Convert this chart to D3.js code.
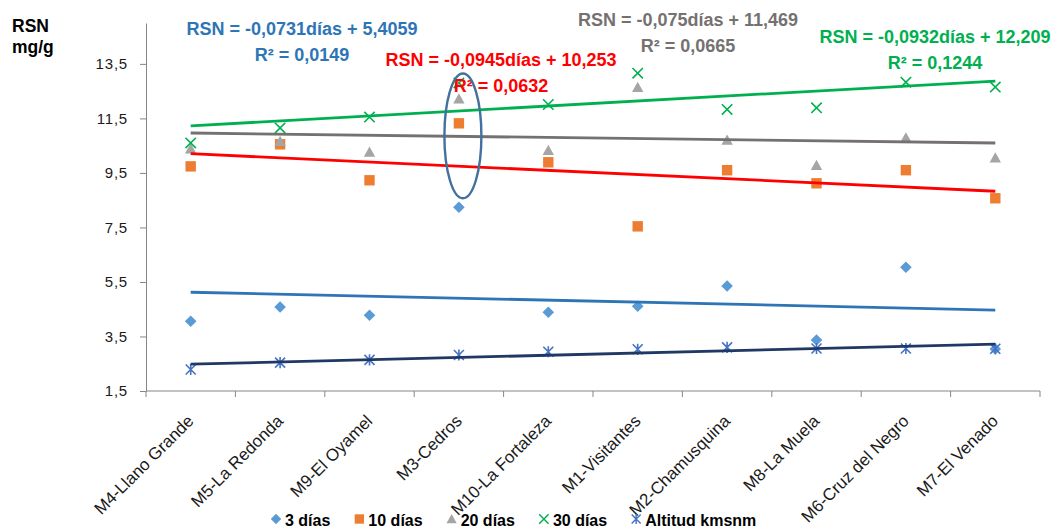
<!DOCTYPE html>
<html>
<head>
<meta charset="utf-8">
<script src="https://cdn.jsdelivr.net/npm/d3@7"></script>
<style>
  body { margin: 0; background: #fff; }
  svg { display: block; }
  text { font-family: "Liberation Sans", Arial, sans-serif; }
</style>
</head>
<body>
<svg id="chart" width="1052" height="529"></svg>
<script>
// Sampling sites along the altitude gradient
const sites = ["M4-Llano Grande", "M5-La Redonda", "M9-El Oyamel", "M3-Cedros", "M10-La Fortaleza",
               "M1-Visitantes", "M2-Chamusquina", "M8-La Muela", "M6-Cruz del Negro", "M7-El Venado"];

// RSN (mg/g) after each incubation time, and site altitude (km a.s.l.)
const dias3   = [4.06, 4.58, 4.28, 8.24, 4.39, 4.61, 5.35, 3.37, 6.04, 3.04];
const dias10  = [9.74, 10.55, 9.23, 11.32, 9.89, 7.54, 9.60, 9.12, 9.60, 8.57];
const dias20  = [10.38, 10.66, 10.26, 12.22, 10.33, 12.64, 10.70, 9.78, 10.79, 10.05];
const dias30  = [10.60, 11.15, 11.55, 12.80, 12.01, 13.16, 11.83, 11.89, 12.83, 12.65];
const altitud = [2.29, 2.54, 2.64, 2.82, 2.94, 3.03, 3.10, 3.06, 3.06, 3.05];

const seriesNames = ["3 días", "10 días", "20 días", "30 días", "Altitud kmsnm"];
const yTicks = [1.5, 3.5, 5.5, 7.5, 9.5, 11.5, 13.5];

// Trend-line equations as reported for each incubation time
const eqLines = [
  "RSN = -0,0731días + 5,4059",
  "RSN = -0,0945días + 10,253",
  "RSN = -0,075días + 11,469",
  "RSN = -0,0932días + 12,209"
];
const r2Lines = ["R² = 0,0149", "R² = 0,0632", "R² = 0,0665", "R² = 0,1244"];

const series = [
  { name: seriesNames[0], values: dias3,   marker: "diamond",  color: "#5B9BD5", trend: "#2E75B6" },
  { name: seriesNames[1], values: dias10,  marker: "square",   color: "#ED7D31", trend: "#FF0000" },
  { name: seriesNames[2], values: dias20,  marker: "triangle", color: "#A5A5A5", trend: "#767171" },
  { name: seriesNames[3], values: dias30,  marker: "cross",    color: "#00B050", trend: "#00B050" },
  { name: seriesNames[4], values: altitud, marker: "star",     color: "#4472C4", trend: "#203864" }
];

const svg = d3.select("#chart");
const plotLeft = 146, plotRight = 1040, plotTop = 23, plotBottom = 391;

const x = d3.scaleBand().domain(sites).range([plotLeft, plotRight]);
const cx = s => x(s) + x.bandwidth() / 2;
const y = d3.scaleLinear().domain([1.5, 15]).range([plotBottom, plotTop]);

// ---- axes ----
const axisColor = "#868686";
const yAxis = svg.append("g")
  .attr("transform", `translate(${plotLeft},0)`)
  .call(d3.axisLeft(y).tickValues(yTicks).tickSize(6).tickSizeOuter(0).tickPadding(12)
    .tickFormat(d => d.toFixed(1).replace(".", ",")));
yAxis.select(".domain").attr("stroke", axisColor);
yAxis.selectAll(".tick line").attr("stroke", axisColor);
yAxis.selectAll(".tick text")
  .attr("font-family", "'Liberation Sans', Arial, sans-serif")
  .attr("font-size", 15).attr("letter-spacing", 0.8).attr("fill", "#1a1a1a");

const xg = svg.append("g");
xg.append("line").attr("x1", plotLeft).attr("x2", plotRight)
  .attr("y1", plotBottom).attr("y2", plotBottom).attr("stroke", axisColor);
const edges = sites.map(s => x(s)).concat([plotRight]);
xg.selectAll("line.tk").data(edges).join("line").attr("class", "tk")
  .attr("x1", d => d).attr("x2", d => d).attr("y1", plotBottom).attr("y2", plotBottom + 6)
  .attr("stroke", axisColor);
xg.selectAll("text").data(sites).join("text")
  .attr("transform", d => `translate(${cx(d) + 4},${plotBottom + 31}) rotate(-45)`)
  .attr("text-anchor", "end").attr("font-size", 17).attr("fill", "#1a1a1a")
  .text(d => d);

// ---- marker shapes ----
function markerPath(type) {
  switch (type) {
    case "diamond":  return "M0,-5.8L5.8,0L0,5.8L-5.8,0Z";
    case "square":   return "M-5.2,-5.2H5.2V5.2H-5.2Z";
    case "triangle": return "M0,-5.6L5.7,4.6H-5.7Z";
    case "cross":    return "M-5.2,-5.2L5.2,5.2M5.2,-5.2L-5.2,5.2";
    case "star":     return "M-5,-5L5,5M5,-5L-5,5M0,-5.6V5.6";
  }
}
function drawMarker(g, type, color) {
  const stroked = type === "cross" || type === "star";
  g.append("path").attr("d", markerPath(type))
    .attr("fill", stroked ? "none" : color)
    .attr("stroke", stroked ? color : "none")
    .attr("stroke-width", stroked ? 1.6 : 0);
}

// ---- least-squares trend lines over the site index ----
function fit(vals) {
  const n = vals.length, xs = d3.range(1, n + 1);
  const mx = d3.mean(xs), my = d3.mean(vals);
  const sxy = d3.sum(xs, (xi, i) => (xi - mx) * (vals[i] - my));
  const sxx = d3.sum(xs, xi => (xi - mx) ** 2);
  const b = sxy / sxx, a = my - b * mx;
  return [a + b * 1, a + b * n];
}

const plot = svg.append("g");
series.forEach(s => {
  const g = plot.append("g");
  s.values.forEach((v, i) => {
    drawMarker(g.append("g").attr("transform", `translate(${cx(sites[i])},${y(v)})`), s.marker, s.color);
  });
});
series.forEach(s => {
  const [y0, y1] = fit(s.values);
  plot.append("line")
    .attr("x1", cx(sites[0])).attr("x2", cx(sites[sites.length - 1]))
    .attr("y1", y(y0)).attr("y2", y(y1))
    .attr("stroke", s.trend).attr("stroke-width", 2.8);
});

// ---- equation labels ----
const eqPos = [
  { x: 302, y: 35 }, { x: 501, y: 66 }, { x: 688, y: 26 }, { x: 935, y: 43 }
];
eqLines.forEach((t, i) => {
  const g = svg.append("g").attr("fill", series[i].trend).attr("font-weight", "bold")
    .attr("font-size", 18).attr("text-anchor", "middle");
  g.append("text").attr("x", eqPos[i].x).attr("y", eqPos[i].y).text(t);
  g.append("text").attr("x", eqPos[i].x).attr("y", eqPos[i].y + 25.5).text(r2Lines[i]);
});

// highlight around the M3-Cedros readings
const hiTop = 13.15, hiBottom = 8.57;
svg.append("ellipse")
  .attr("cx", cx("M3-Cedros") + 4)
  .attr("cy", (y(hiTop) + y(hiBottom)) / 2)
  .attr("rx", 18.5)
  .attr("ry", (y(hiBottom) - y(hiTop)) / 2)
  .attr("fill", "none").attr("stroke", "#41719C").attr("stroke-width", 2.4);

// ---- y-axis title ----
const yt = svg.append("g").attr("font-weight", "bold").attr("font-size", 17.5).attr("fill", "#000");
yt.append("text").attr("x", 12).attr("y", 31.5).text("RSN");
yt.append("text").attr("x", 12).attr("y", 52.5).text("mg/g");

// ---- legend ----
const legend = svg.append("g").attr("transform", "translate(276,519)");
let lx = 0;
series.forEach(s => {
  const item = legend.append("g").attr("transform", `translate(${lx},0)`);
  drawMarker(item.append("g").attr("transform", "scale(0.9)"), s.marker, s.color);
  const t = item.append("text").attr("x", 9).attr("y", 6.5)
    .attr("font-size", 16).attr("font-weight", "bold").attr("fill", "#000").text(s.name);
  lx += 9 + t.node().getComputedTextLength() + 29;
});
</script>
</body>
</html>
